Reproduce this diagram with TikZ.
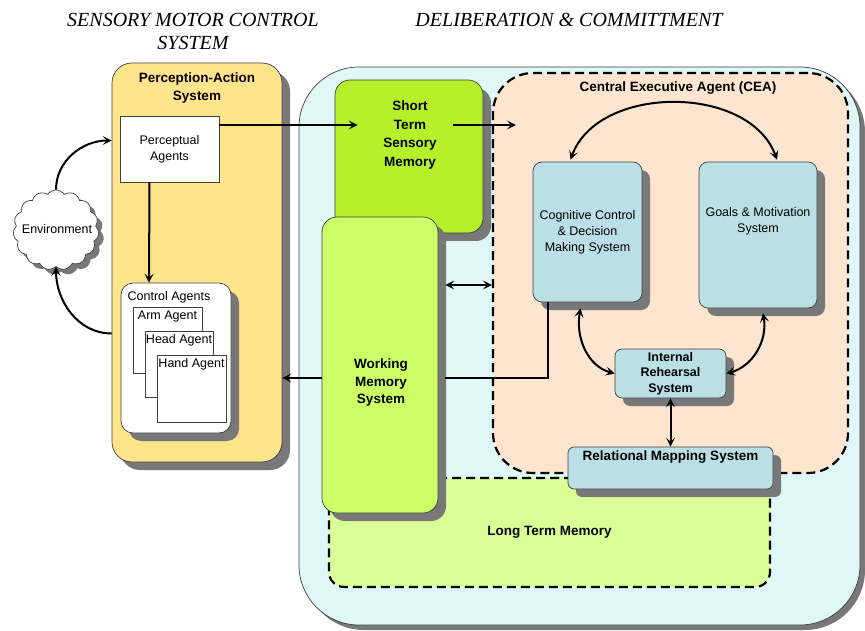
\documentclass[tikz,border=0pt]{standalone}
\usepackage{fontspec}
\setmainfont{Liberation Sans}
\newfontfamily\headfont{Liberation Serif}
\usetikzlibrary{shapes,shadows,arrows.meta,calc}
\definecolor{paYellow}{RGB}{255,228,140}
\definecolor{delibCyan}{RGB}{224,247,247}
\definecolor{ceaPeach}{RGB}{253,229,208}
\definecolor{stsmLime}{RGB}{181,240,42}
\definecolor{wmGreen}{RGB}{204,255,102}
\definecolor{ltmGreen}{RGB}{218,255,150}
\definecolor{agentBlue}{RGB}{186,224,230}
\definecolor{shadowGray}{RGB}{120,120,120}

\begin{document}
\begin{tikzpicture}[x=1pt,y=-1pt]
    \tikzstyle{box}=[rectangle, draw=black!75, line width=0.7pt, inner sep=0pt, align=center]
    \tikzstyle{shade}=[drop shadow={shadow xshift=8pt, shadow yshift=-8pt, opacity=1, fill=shadowGray}]
    \tikzstyle{plain}=[font=\fontsize{12.5}{16}\selectfont, align=center, inner sep=0pt]
    \tikzstyle{heavy}=[font=\bfseries\fontsize{13.5}{17.5}\selectfont, align=center, inner sep=0pt]
    \tikzstyle{heading}=[font=\headfont\itshape\fontsize{20}{23}\selectfont, align=center, inner sep=0pt]
    \tikzstyle{fence}=[draw=black, line width=2.2pt, dash pattern=on 9pt off 5pt]
    \tikzstyle{arr}=[line width=2pt, -{Stealth[length=9pt,width=9pt,inset=4pt]}]
    \tikzstyle{twoway}=[line width=2pt, {Stealth[length=9pt,width=9pt,inset=4pt]}-{Stealth[length=9pt,width=9pt,inset=4pt]}]

    \useasboundingbox (0,0) rectangle (865,631);

    \node[heading] (smtitle) at (193,31) {SENSORY MOTOR CONTROL\\SYSTEM};
    \node[heading] (dctitle) at (569,20) {DELIBERATION \& COMMITTMENT};

    % sensory motor side
    \node[box, shade, rounded corners=20pt, fill=paYellow, minimum width=170pt, minimum height=399pt] (pa) at (197,262.5) {};
    \node[heavy] (patitle) at (197,88) {Perception-Action\\System};
    \node[box, fill=white, minimum width=99pt, minimum height=66pt, plain] (pag) at (169.5,149) {Perceptual\\Agents};
    \node[box, shade, rounded corners=12pt, fill=white, minimum width=110pt, minimum height=150pt] (ctl) at (176,358) {};
    \node[plain] (ctltext) at (169,297) {Control Agents};
    \node[box, fill=white, minimum width=69pt, minimum height=66pt, label={[plain, anchor=north, yshift=-4pt]north:Arm Agent}] (arm) at (167.5,340) {};
    \node[box, fill=white, minimum width=68pt, minimum height=66pt, label={[plain, anchor=north, yshift=-4pt]north:Head Agent}] (head) at (179,364) {};
    \node[box, fill=white, minimum width=69pt, minimum height=67pt, label={[plain, anchor=north, yshift=-4pt]north:Hand Agent}] (hand) at (191.5,388.5) {};
    \node[cloud, cloud puffs=15, cloud puff arc=110, draw=black!75, line width=0.7pt, fill=white,
          drop shadow={shadow xshift=5pt, shadow yshift=-5pt, opacity=1, fill=shadowGray},
          minimum width=86pt, minimum height=80pt, inner sep=0pt] (env) at (56,230) {};
    \node[plain] (envtext) at (57,229) {Environment};

    % deliberation side
    \node[box, rounded corners=60pt, fill=delibCyan,
          drop shadow={shadow xshift=5pt, shadow yshift=-5pt, opacity=1, fill=shadowGray},
          minimum width=561pt, minimum height=558pt] (delib) at (579.5,346) {};
    \node[rectangle, rounded corners=40pt, fill=ceaPeach, fence, minimum width=355pt, minimum height=400pt] (cea) at (670.5,273) {};
    \node[heavy] (ceatitle) at (678,88) {Central Executive Agent (CEA)};
    \node[rectangle, rounded corners=15pt, fill=ltmGreen, fence, minimum width=441pt, minimum height=109pt, heavy] (ltm) at (549.5,532.5) {\raisebox{-3pt}{Long Term Memory}};
    \node[box, shade, rounded corners=15pt, fill=stsmLime, minimum width=148pt, minimum height=153pt] (stsm) at (409,156.5) {};
    \node[heavy, font=\bfseries\fontsize{13.5}{18.5}\selectfont] (stsmtext) at (410,135) {Short\\Term\\Sensory\\Memory};
    \node[box, shade, rounded corners=15pt, fill=wmGreen, minimum width=116pt, minimum height=296pt] (wm) at (380,365) {};
    \node[heavy] (wmtext) at (381,383) {Working\\Memory\\System};
    \node[box, shade, rounded corners=9pt, fill=agentBlue, minimum width=109pt, minimum height=140pt, plain] (cog) at (587.5,232) {Cognitive Control\\\& Decision\\Making System};
    \node[box, shade, rounded corners=9pt, fill=agentBlue, minimum width=118pt, minimum height=146pt, plain] (goal) at (758,235) {Goals \& Motivation\\System\\[14pt]};
    \node[box, shade, rounded corners=7pt, fill=agentBlue, minimum width=111pt, minimum height=49pt, heavy, font=\bfseries\fontsize{12.5}{15.5}\selectfont] (irs) at (670.5,373.5) {Internal\\Rehearsal\\System};
    \node[box, shade, rounded corners=6pt, fill=agentBlue, minimum width=205pt, minimum height=42pt,
          label={[heavy, anchor=north, yshift=-4pt]north:Relational Mapping System}] (rel) at (670.5,468) {};

    % connectors
    \draw[arr] (env.north) to[out=90, in=180] ($(pa.west)+(0,-122)$);
    \draw[arr] ($(pa.west)+(0,71)$) to[out=180, in=270] (env.south);
    \draw[arr] ($(pag.south)+(-20,0)$) -- ($(ctl.north)+(-27,0)$);
    \draw[arr] ($(pag.east)+(0,-24)$) -- ($(stsm.west)+(23,-31.5)$);
    \draw[arr] ($(stsm.east)+(-30,-31.5)$) -- ($(cea.west)+(24,-148)$);
    \draw[twoway] ($(wm.east)+(7,-80)$) -- ($(cea.west)+(0,12)$);
    \draw[line width=2pt] ($(cog.south)+(-40,0)$) |- ($(wm.east)+(7,13)$);
    \draw[arr] ($(wm.west)+(0,13)$) -- ($(pa.east)+(0,115.5)$);
    \draw[twoway] ($(cog.north)+(-17,-2)$) to[out=70, in=110] ($(goal.north)+(19,-2)$);
    \draw[twoway] ($(cog.south)+(-7,6)$) to[out=260, in=165] (irs.west);
    \draw[twoway] ($(goal.south)+(5,5)$) to[out=280, in=15] (irs.east);
    \draw[twoway] (irs.south) -- (rel.north);
\end{tikzpicture}
\end{document}
